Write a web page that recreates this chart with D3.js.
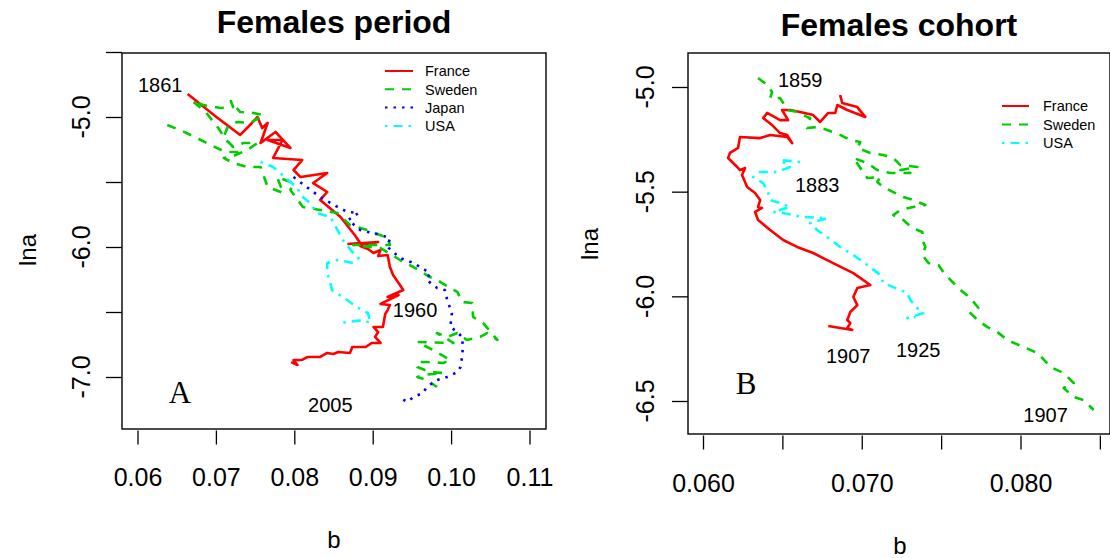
<!DOCTYPE html>
<html><head><meta charset="utf-8">
<script src="https://cdn.jsdelivr.net/npm/d3@7"></script>
<style>
body{margin:0;background:#fff}
svg{display:block}
text{font-family:"Liberation Sans",Arial,Helvetica,sans-serif;fill:#000}
</style>
</head><body>
<svg id="c" width="1110" height="558"></svg>
<script>
// ---------- DATA (b, lna) ----------
const periodFrance = [[0.0664,-4.823],[0.0699,-4.992],[0.0731,-5.138],[0.0741,-5.077],[0.0753,-5.000],[0.0759,-5.085],[0.0766,-5.046],[0.0757,-5.200],[0.0776,-5.115],[0.0795,-5.238],[0.0766,-5.177],[0.0785,-5.177],[0.0773,-5.315],[0.0810,-5.331],[0.0799,-5.408],[0.0808,-5.462],[0.0842,-5.431],[0.0824,-5.508],[0.0842,-5.577],[0.0833,-5.638],[0.0859,-5.769],[0.0878,-5.915],[0.0884,-5.969],[0.0869,-5.977],[0.0907,-5.962],[0.0884,-5.992],[0.0894,-6.015],[0.0901,-6.046],[0.0910,-6.023],[0.0907,-6.069],[0.0919,-6.062],[0.0922,-6.154],[0.0926,-6.215],[0.0933,-6.277],[0.0939,-6.331],[0.0919,-6.385],[0.0933,-6.369],[0.0910,-6.438],[0.0922,-6.446],[0.0919,-6.485],[0.0916,-6.515],[0.0913,-6.615],[0.0901,-6.615],[0.0907,-6.654],[0.0903,-6.692],[0.0910,-6.738],[0.0899,-6.738],[0.0891,-6.769],[0.0874,-6.769],[0.0871,-6.815],[0.0856,-6.808],[0.0850,-6.823],[0.0842,-6.815],[0.0833,-6.846],[0.0817,-6.846],[0.0810,-6.869],[0.0799,-6.869],[0.0804,-6.908],[0.0796,-6.885]];
const periodSweden = [[0.0638,-5.062],[0.0657,-5.108],[0.0676,-5.162],[0.0696,-5.223],[0.0712,-5.269],[0.0729,-5.269],[0.0713,-5.177],[0.0703,-5.085],[0.0687,-4.962],[0.0670,-4.877],[0.0684,-4.908],[0.0706,-4.931],[0.0722,-4.923],[0.0719,-4.877],[0.0731,-4.962],[0.0748,-4.969],[0.0761,-4.985],[0.0744,-5.046],[0.0727,-5.038],[0.0715,-5.077],[0.0710,-5.154],[0.0722,-5.231],[0.0735,-5.200],[0.0753,-5.200],[0.0740,-5.254],[0.0719,-5.308],[0.0710,-5.315],[0.0722,-5.354],[0.0740,-5.385],[0.0757,-5.385],[0.0766,-5.538],[0.0786,-5.585],[0.0778,-5.462],[0.0799,-5.508],[0.0795,-5.562],[0.0811,-5.692],[0.0833,-5.715],[0.0855,-5.738],[0.0871,-5.831],[0.0893,-5.869],[0.0919,-5.931],[0.0922,-5.985],[0.0875,-5.985],[0.0910,-6.008],[0.0935,-6.100],[0.0952,-6.154],[0.0973,-6.231],[0.0982,-6.254],[0.0999,-6.315],[0.1008,-6.346],[0.1014,-6.423],[0.1027,-6.431],[0.1028,-6.538],[0.1041,-6.585],[0.1059,-6.715],[0.1046,-6.662],[0.1037,-6.692],[0.1020,-6.715],[0.1008,-6.662],[0.0995,-6.692],[0.0982,-6.662],[0.1003,-6.738],[0.0957,-6.731],[0.0977,-6.792],[0.0999,-6.869],[0.0990,-6.892],[0.0969,-6.885],[0.0957,-6.885],[0.0957,-6.923],[0.0973,-6.962],[0.0990,-6.969],[0.0964,-6.985],[0.0957,-7.000],[0.0969,-7.023],[0.0982,-7.077]];
const periodJapan = [[0.0799,-5.462],[0.0814,-5.531],[0.0833,-5.615],[0.0855,-5.692],[0.0868,-5.731],[0.0882,-5.738],[0.0869,-5.792],[0.0884,-5.869],[0.0910,-5.908],[0.0922,-5.931],[0.0919,-6.000],[0.0935,-6.085],[0.0952,-6.123],[0.0973,-6.200],[0.0969,-6.254],[0.0982,-6.315],[0.0992,-6.331],[0.0995,-6.408],[0.1001,-6.508],[0.0999,-6.615],[0.1008,-6.654],[0.1014,-6.692],[0.1015,-6.769],[0.1014,-6.846],[0.1012,-6.923],[0.1008,-6.962],[0.0995,-7.000],[0.0982,-7.023],[0.0969,-7.077],[0.0964,-7.123],[0.0952,-7.154],[0.0944,-7.192],[0.0933,-7.154]];
const periodUSA = [[0.0757,-5.346],[0.0773,-5.385],[0.0782,-5.431],[0.0795,-5.500],[0.0804,-5.546],[0.0808,-5.600],[0.0820,-5.662],[0.0829,-5.738],[0.0846,-5.769],[0.0855,-5.869],[0.0862,-5.946],[0.0874,-6.038],[0.0882,-6.085],[0.0875,-6.123],[0.0855,-6.100],[0.0842,-6.123],[0.0842,-6.200],[0.0846,-6.277],[0.0848,-6.331],[0.0862,-6.385],[0.0880,-6.462],[0.0894,-6.508],[0.0897,-6.585],[0.0888,-6.562],[0.0868,-6.577],[0.0856,-6.585]];

const cohortFrance = [[0.06864,-5.038],[0.06877,-5.076],[0.06972,-5.096],[0.07022,-5.143],[0.06909,-5.110],[0.06846,-5.086],[0.06833,-5.124],[0.06789,-5.124],[0.06738,-5.167],[0.06694,-5.134],[0.06612,-5.119],[0.06549,-5.110],[0.06498,-5.110],[0.06536,-5.158],[0.06486,-5.158],[0.06404,-5.124],[0.06379,-5.148],[0.06435,-5.182],[0.06486,-5.220],[0.0653,-5.229],[0.06562,-5.268],[0.0653,-5.239],[0.06423,-5.229],[0.0636,-5.244],[0.06233,-5.239],[0.06221,-5.291],[0.0617,-5.315],[0.06158,-5.339],[0.06215,-5.382],[0.06233,-5.397],[0.06265,-5.387],[0.06246,-5.420],[0.06278,-5.478],[0.06328,-5.506],[0.0636,-5.540],[0.06347,-5.573],[0.06372,-5.578],[0.06328,-5.597],[0.06347,-5.635],[0.06423,-5.683],[0.06505,-5.731],[0.06593,-5.764],[0.06694,-5.793],[0.06782,-5.827],[0.06947,-5.889],[0.07054,-5.946],[0.06972,-5.960],[0.06947,-6.003],[0.06972,-6.042],[0.06928,-6.075],[0.06909,-6.113],[0.06928,-6.128],[0.06909,-6.151],[0.0694,-6.161],[0.06789,-6.142]];
const cohortSweden = [[0.06347,-4.957],[0.06404,-4.990],[0.06435,-5.024],[0.06423,-5.053],[0.06486,-5.053],[0.06505,-5.076],[0.0653,-5.110],[0.06593,-5.119],[0.06656,-5.143],[0.06675,-5.148],[0.06656,-5.196],[0.06719,-5.191],[0.06782,-5.205],[0.06864,-5.229],[0.06928,-5.253],[0.06991,-5.263],[0.06972,-5.291],[0.07054,-5.315],[0.07136,-5.325],[0.07199,-5.339],[0.07243,-5.373],[0.0735,-5.382],[0.07243,-5.397],[0.07306,-5.411],[0.0718,-5.411],[0.07098,-5.397],[0.07035,-5.363],[0.06947,-5.339],[0.07035,-5.435],[0.07117,-5.430],[0.07098,-5.454],[0.07136,-5.478],[0.07199,-5.502],[0.07262,-5.526],[0.07325,-5.540],[0.07401,-5.564],[0.07325,-5.573],[0.07243,-5.588],[0.07199,-5.612],[0.07262,-5.635],[0.07319,-5.674],[0.07382,-5.693],[0.07382,-5.731],[0.07401,-5.764],[0.07382,-5.803],[0.0742,-5.841],[0.07483,-5.850],[0.07514,-5.884],[0.07559,-5.922],[0.07622,-5.970],[0.07685,-6.008],[0.07735,-6.056],[0.07685,-6.080],[0.07729,-6.113],[0.07792,-6.147],[0.07855,-6.171],[0.07918,-6.209],[0.08019,-6.242],[0.08108,-6.271],[0.0819,-6.338],[0.08272,-6.367],[0.08335,-6.414],[0.08272,-6.438],[0.08335,-6.481],[0.08398,-6.496],[0.08461,-6.543]];
const cohortUSA = [[0.06612,-5.358],[0.06486,-5.349],[0.06549,-5.382],[0.06467,-5.406],[0.0636,-5.406],[0.06316,-5.430],[0.06379,-5.459],[0.0641,-5.502],[0.06423,-5.540],[0.06486,-5.554],[0.06549,-5.573],[0.06442,-5.597],[0.06505,-5.602],[0.06631,-5.621],[0.06782,-5.626],[0.06675,-5.650],[0.06719,-5.683],[0.06782,-5.717],[0.06864,-5.764],[0.06947,-5.803],[0.07035,-5.850],[0.07117,-5.898],[0.07136,-5.936],[0.07199,-5.956],[0.07287,-5.984],[0.07306,-6.018],[0.0735,-6.056],[0.07388,-6.080],[0.07287,-6.104],[0.07338,-6.099]];

const periodXTicks = [0.06,0.07,0.08,0.09,0.10,0.11];
const periodXLabels = ["0.06","0.07","0.08","0.09","0.10","0.11"];
const periodYTicks = [-4.5,-5.0,-5.5,-6.0,-6.5,-7.0];
const periodYLabels = ["","-5.0","","-6.0","","-7.0"];
const cohortXTicks = [0.060,0.065,0.070,0.075,0.080,0.085];
const cohortXLabels = ["0.060","","0.070","","0.080",""];
const cohortYTicks = [-5.0,-5.5,-6.0,-6.5];
const cohortYLabels = ["-5.0","-5.5","-6.0","-6.5"];

const periodLegend = ["France","Sweden","Japan","USA"];
const cohortLegend = ["France","Sweden","USA"];
const periodNotes = [{t:"1861",b:0.0629,l:-4.754},{t:"1960",b:0.0954,l:-6.485},{t:"2005",b:0.0846,l:-7.215}];
const cohortNotes = [{t:"1859",b:0.06612,l:-4.967},{t:"1883",b:0.06719,l:-5.468},{t:"1907",b:0.06915,l:-6.285},{t:"1925",b:0.07356,l:-6.257},{t:"1907",b:0.08158,l:-6.567}];

// ---------- STYLES ----------
const style = {
  France:{color:"#FF0000",dash:null},
  Sweden:{color:"#00CD00",dash:"9,8"},
  Japan:{color:"#0000FF",dash:"2.5,6"},
  USA:{color:"#00FFFF",dash:"2.5,6,9,6"}
};

const svg = d3.select("#c");
svg.append("rect").attr("width",1110).attr("height",558).attr("fill","#fff");

function panel(cfg){
  const g = svg.append("g");
  const x = d3.scaleLinear().domain(cfg.xDom).range(cfg.xRange);
  const y = d3.scaleLinear().domain(cfg.yDom).range(cfg.yRange);
  const B = cfg.box;
  const clipId = "clip"+cfg.id;
  svg.append("clipPath").attr("id",clipId).append("rect")
    .attr("x",B.l).attr("y",B.t).attr("width",B.r-B.l).attr("height",B.b-B.t);

  const line = d3.line().x(d=>x(d[0])).y(d=>y(d[1]));
  const lg = g.append("g").attr("clip-path",`url(#${clipId})`);
  cfg.series.forEach(s=>{
    const st = style[s.name];
    lg.append("path").datum(s.data).attr("d",line)
      .attr("fill","none").attr("stroke",st.color).attr("stroke-width",2.6)
      .attr("stroke-linejoin","round")
      .attr("stroke-dasharray",st.dash);
  });

  g.append("rect").attr("x",B.l).attr("y",B.t).attr("width",B.r-B.l).attr("height",B.b-B.t)
    .attr("fill","none").attr("stroke","#000").attr("stroke-width",1.4);

  const xa = d3.axisBottom(x).tickValues(cfg.xTicks).tickSize(14)
    .tickFormat((d,i)=>cfg.xLabels[i]).tickPadding(cfg.xPad);
  const gx = g.append("g").attr("transform",`translate(0,${B.b+1.5})`).call(xa);
  gx.select(".domain").remove();
  gx.selectAll("line").attr("stroke","#000").attr("stroke-width",1.3);
  gx.selectAll("text").attr("font-size",cfg.tickFont).attr("font-family","Liberation Sans, Arial, sans-serif").attr("fill","#000");

  const ya = d3.axisLeft(y).tickValues(cfg.yTicks).tickSize(16).tickFormat("");
  const gy = g.append("g").attr("transform",`translate(${B.l},0)`).call(ya);
  gy.select(".domain").remove();
  gy.selectAll("line").attr("stroke","#000").attr("stroke-width",1.3);
  g.selectAll("text.yl").data(cfg.yTicks).join("text").attr("class","yl")
    .attr("transform",(d)=>`translate(${cfg.yLabX},${y(d)}) rotate(-90)`)
    .attr("text-anchor","middle").attr("font-size",cfg.tickFont)
    .text((d,i)=>cfg.yLabels[i]);

  g.append("text").attr("x",(B.l+B.r)/2).attr("y",cfg.titleY).attr("text-anchor","middle")
    .attr("font-size",32).attr("font-weight","bold").text(cfg.title);
  g.append("text").attr("x",cfg.bX).attr("y",cfg.bY).attr("text-anchor","middle")
    .attr("font-size",24).text("b");
  g.append("text").attr("transform",`translate(${cfg.lnaX},${cfg.lnaY}) rotate(-90)`)
    .attr("text-anchor","middle").attr("font-size",24).text("lna");

  g.selectAll("text.note").data(cfg.notes).join("text").attr("class","note")
    .attr("x",d=>x(d.b)).attr("y",d=>y(d.l)).attr("text-anchor","middle")
    .attr("dy","0.35em").attr("font-size",20).text(d=>d.t);

  g.append("text").attr("x",cfg.letter.x).attr("y",cfg.letter.y).attr("text-anchor","middle")
    .attr("font-size",31).style("font-family","'Liberation Serif', 'Times New Roman', serif").text(cfg.letter.t);

  const L = cfg.legend;
  const leg = g.append("g");
  L.names.forEach((n,i)=>{
    const st = style[n];
    const yy = L.y0 + i*L.dy;
    leg.append("line").attr("x1",L.x1).attr("x2",L.x2).attr("y1",yy).attr("y2",yy)
      .attr("stroke",st.color).attr("stroke-width",2).attr("stroke-dasharray",st.dash);
    leg.append("text").attr("x",L.tx).attr("y",yy).attr("dy","0.36em")
      .attr("font-size",14.5).text(n);
  });
}

panel({
  id:"A", title:"Females period", titleY:33,
  xDom:[0.06,0.11], xRange:[137.5,529.5],
  yDom:[-5,-7], yRange:[117,377],
  box:{l:122,r:546,t:53,b:429},
  series:[{name:"France",data:periodFrance},{name:"Sweden",data:periodSweden},{name:"Japan",data:periodJapan},{name:"USA",data:periodUSA}],
  xTicks:periodXTicks, xLabels:periodXLabels, xPad:24,
  yTicks:periodYTicks, yLabels:periodYLabels, yLabX:90,
  tickFont:25, bX:334, bY:548, lnaX:36, lnaY:250,
  notes:periodNotes,
  letter:{t:"A",x:180,y:403},
  legend:{names:periodLegend,x1:385,x2:413,tx:425,y0:71,dy:18.3}
});

panel({
  id:"B", title:"Females cohort", titleY:36,
  xDom:[0.06,0.08], xRange:[703,1020.5],
  yDom:[-5,-6.5], yRange:[87,401],
  box:{l:688,r:1110,t:53,b:434},
  series:[{name:"France",data:cohortFrance},{name:"Sweden",data:cohortSweden},{name:"USA",data:cohortUSA}],
  xTicks:cohortXTicks, xLabels:cohortXLabels, xPad:25,
  yTicks:cohortYTicks, yLabels:cohortYLabels, yLabX:654,
  tickFont:25, bX:900, bY:554, lnaX:598, lnaY:244,
  notes:cohortNotes,
  letter:{t:"B",x:746,y:394},
  legend:{names:cohortLegend,x1:1002,x2:1029,tx:1043,y0:106,dy:18.5}
});
</script>
</body></html>
